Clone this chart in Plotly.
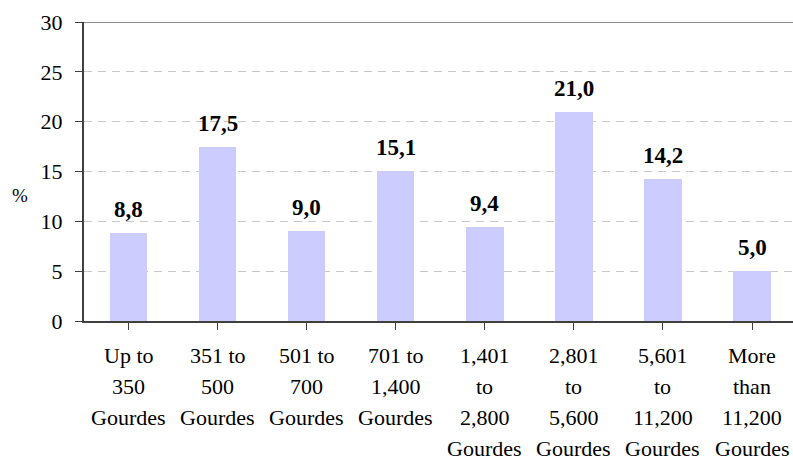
import plotly.graph_objects as go

categories = [
    "Up to<br>350<br>Gourdes",
    "351 to<br>500<br>Gourdes",
    "501 to<br>700<br>Gourdes",
    "701 to<br>1,400<br>Gourdes",
    "1,401<br>to<br>2,800<br>Gourdes",
    "2,801<br>to<br>5,600<br>Gourdes",
    "5,601<br>to<br>11,200<br>Gourdes",
    "More<br>than<br>11,200<br>Gourdes",
]
values = [8.8, 17.5, 9.0, 15.1, 9.4, 21.0, 14.2, 5.0]
y_ticks = [0, 5, 10, 15, 20, 25, 30]

serif = "Liberation Serif, Times New Roman, serif"
x_idx = list(range(len(categories)))

fig = go.Figure()
fig.add_trace(
    go.Bar(
        x=x_idx,
        y=values,
        width=0.42,
        marker=dict(color="#CCCCFF", line=dict(width=0)),
        hoverinfo="skip",
    )
)

# value labels (comma decimal, like the original)
for i, v in enumerate(values):
    fig.add_annotation(
        x=i, y=v, text="<b>" + f"{v:.1f}".replace(".", ",") + "</b>",
        showarrow=False, yanchor="bottom", yshift=9,
        font=dict(family=serif, size=23, color="black"),
    )

# category labels, one annotation per line so the line spacing matches
for i, lab in enumerate(categories):
    for j, line in enumerate(lab.split("<br>")):
        fig.add_annotation(
            x=i, y=0, xref="x", yref="paper", text=line,
            showarrow=False, yanchor="middle", yshift=-(34 + 31.3 * j),
            font=dict(family=serif, size=22, color="black"),
        )

fig.add_annotation(
    x=-0.09, y=0.42, xref="paper", yref="paper", text="%", showarrow=False,
    xanchor="center", font=dict(family=serif, size=19, color="black"),
)

# top frame line
fig.add_shape(type="line", xref="paper", yref="y", x0=0, x1=1, y0=30, y1=30,
              line=dict(color="#8c8c8c", width=2))

fig.update_xaxes(
    range=[-0.5, 7.46],
    tickmode="array", tickvals=x_idx, ticktext=[""] * len(x_idx),
    tickson="boundaries", ticks="outside", ticklen=7, tickcolor="#404040",
    showline=True, linecolor="#404040", linewidth=2,
    showgrid=False, zeroline=False, fixedrange=True,
)
fig.update_yaxes(
    range=[0, 30], tickvals=y_ticks,
    ticks="outside", ticklen=7, tickcolor="#404040", ticklabelstandoff=8,
    showline=True, linecolor="#404040", linewidth=2,
    showgrid=True, gridcolor="#c8c8c8", griddash="8px,6px", gridwidth=1,
    zeroline=False, fixedrange=True,
    tickfont=dict(family=serif, size=22, color="black"),
)
fig.update_layout(
    width=793, height=462,
    margin=dict(l=84, r=0, t=22, b=141),
    plot_bgcolor="white", paper_bgcolor="white",
    showlegend=False, bargap=0,
)
fig.write_html("out.html", config={"displayModeBar": False},
               post_script="document.body.style.margin='0';")
